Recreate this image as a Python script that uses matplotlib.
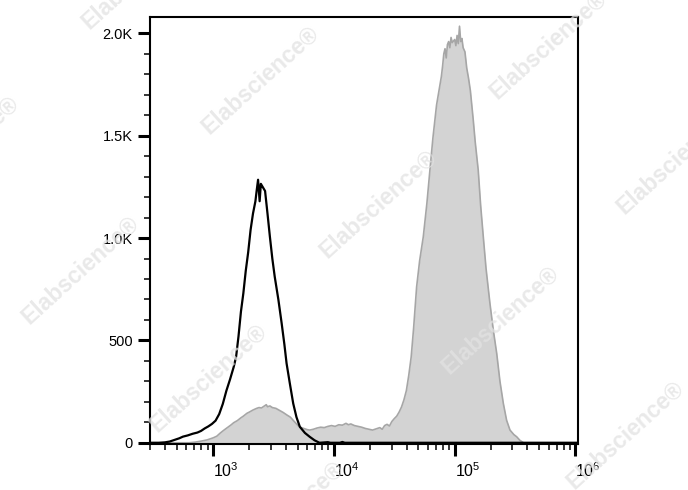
import numpy as np
import matplotlib
matplotlib.use("Agg")
import matplotlib.pyplot as plt
from matplotlib.ticker import FixedLocator, LogLocator, NullFormatter, MultipleLocator

plt.rcParams['font.family'] = ['Liberation Sans', 'DejaVu Sans']
plt.rcParams['mathtext.fontset'] = 'custom'
plt.rcParams['mathtext.rm'] = 'Liberation Sans'
plt.rcParams['mathtext.it'] = 'Liberation Sans'

# ---- data (log10 of fluorescence, event count) ----
black_log = [2.47, 2.55, 2.60, 2.64, 2.68, 2.72, 2.75, 2.79, 2.83, 2.87, 2.90, 2.93, 2.96,
             2.99, 3.02, 3.05, 3.08, 3.11, 3.14, 3.17, 3.19, 3.21, 3.23, 3.25, 3.27, 3.29,
             3.31, 3.33, 3.35, 3.36, 3.372, 3.385, 3.395, 3.41, 3.43, 3.45, 3.47, 3.49,
             3.51, 3.54, 3.567, 3.59, 3.608, 3.635, 3.663, 3.69, 3.718, 3.76, 3.80, 3.84,
             3.88, 3.95, 3.97, 4.05, 4.07, 4.09, 6.05]
black_cnt = [0, 0, 2, 6, 14, 22, 30, 36, 44, 50, 58, 70, 80,
             92, 108, 140, 190, 255, 310, 370, 420, 520, 640, 730, 840, 930,
             1040, 1120, 1180, 1230, 1285, 1180, 1265, 1250, 1230, 1120, 1006, 900,
             811, 700, 585, 480, 388, 290, 192, 125, 78, 48, 29, 12,
             0, 3, 0, 0, 4, 0, 0]

gray_log = [2.47, 2.80, 2.85, 2.90, 2.95, 3.00, 3.03, 3.06, 3.09, 3.12, 3.15, 3.17, 3.20,
            3.23, 3.25, 3.28, 3.30, 3.33, 3.36, 3.38, 3.40, 3.42, 3.44, 3.45, 3.47, 3.49,
            3.52, 3.55, 3.58, 3.61, 3.64, 3.67, 3.70, 3.72, 3.75, 3.78, 3.80, 3.83, 3.86,
            3.89, 3.92, 3.95, 3.98, 4.01, 4.04, 4.07, 4.10, 4.12, 4.14, 4.17, 4.20, 4.23,
            4.26, 4.29, 4.32, 4.35, 4.38, 4.40, 4.42, 4.44, 4.46, 4.48, 4.50, 4.52, 4.54,
            4.56, 4.58, 4.60, 4.62, 4.64, 4.66, 4.685, 4.71, 4.74, 4.77, 4.795, 4.82, 4.85,
            4.87, 4.89, 4.90, 4.91, 4.92, 4.93, 4.94, 4.95, 4.96, 4.97, 4.98, 5.00, 5.01,
            5.02, 5.03, 5.04, 5.05, 5.06, 5.07, 5.085, 5.10, 5.115, 5.13, 5.154, 5.17,
            5.195, 5.215, 5.237, 5.26, 5.292, 5.32, 5.348, 5.375, 5.403, 5.43, 5.458,
            5.49, 5.514, 5.54, 5.57, 6.05]
gray_cnt = [0, 0, 3, 8, 14, 24, 32, 48, 62, 75, 88, 98, 108,
            122, 130, 144, 150, 160, 168, 172, 170, 178, 186, 176, 180, 172,
            168, 158, 148, 136, 125, 105, 86, 76, 70, 64, 62, 66, 72,
            76, 74, 80, 84, 80, 88, 86, 95, 88, 92, 84, 80, 76,
            70, 66, 62, 68, 74, 66, 84, 90, 82, 104, 118, 130, 150,
            175, 210, 255, 330, 420, 560, 762, 890, 1006, 1170, 1332, 1490, 1650,
            1720, 1790, 1840, 1900, 1925, 1880, 1945, 1960, 1930, 1980, 1955, 1970, 1940,
            1990, 1950, 2035, 1960, 1975, 1930, 1910, 1830, 1780, 1720, 1576, 1470,
            1332, 1160, 1006, 850, 681, 550, 437, 300, 192, 110, 62,
            40, 29, 12, 0, 0]

x_major = [1e3, 1e4, 1e5, 1e6]
x_labels = ['$10^{3}$', '$10^{4}$', '$10^{5}$', '$10^{6}$']
y_major = [0, 500, 1000, 1500, 2000]
y_labels = ['0', '500', '1.0K', '1.5K', '2.0K']

bx = 10 ** np.array(black_log)
gx = 10 ** np.array(gray_log)

fig = plt.figure(figsize=(6.88, 4.90), dpi=100)
ax = fig.add_axes([150 / 688, 1 - 444 / 490, 428 / 688, 427 / 490])

ax.fill_between(gx, gray_cnt, 0, color='#d3d3d3', linewidth=0, zorder=1)
ax.plot(gx, gray_cnt, color='#a6a6a6', linewidth=1.2, zorder=2)
ax.plot(bx, black_cnt, color='black', linewidth=1.6, zorder=3)

ax.set_xscale('log')
ax.set_xlim(300, 1.05e6)
ax.set_ylim(-6, 2080)

ax.xaxis.set_major_locator(FixedLocator(x_major))
ax.set_xticklabels(x_labels, fontsize=11.5, ha='left')
ax.xaxis.set_minor_locator(LogLocator(base=10, subs=np.arange(2, 10)))
ax.xaxis.set_minor_formatter(NullFormatter())

ax.yaxis.set_major_locator(FixedLocator(y_major))
ax.set_yticklabels(y_labels, fontsize=10.5)
ax.yaxis.set_minor_locator(MultipleLocator(100))

ax.tick_params(axis='both', which='major', direction='out', length=8.5, width=2.2, color='black')
ax.tick_params(axis='both', which='minor', direction='out', length=4, width=1.1, color='black')
ax.tick_params(axis='y', which='major', pad=4)
ax.tick_params(axis='x', which='major', pad=4)

for s in ax.spines.values():
    s.set_linewidth(1.5)

# watermarks
wm = [(260, 80), (378, 204), (548, 45), (675, 160), (80, 270), (500, 320),
      (208, 378), (625, 435), (-40, 150), (140, -25), (285, 515)]
for (px, py) in wm:
    fig.text(px / 688, 1 - py / 490, 'Elabscience\u00ae', rotation=42,
             ha='center', va='center', rotation_mode='anchor',
             fontsize=16.5, fontweight='bold', family='Liberation Sans',
             color='#e2e2e2', alpha=0.75, zorder=10)

fig.savefig('out.png', dpi=100)
